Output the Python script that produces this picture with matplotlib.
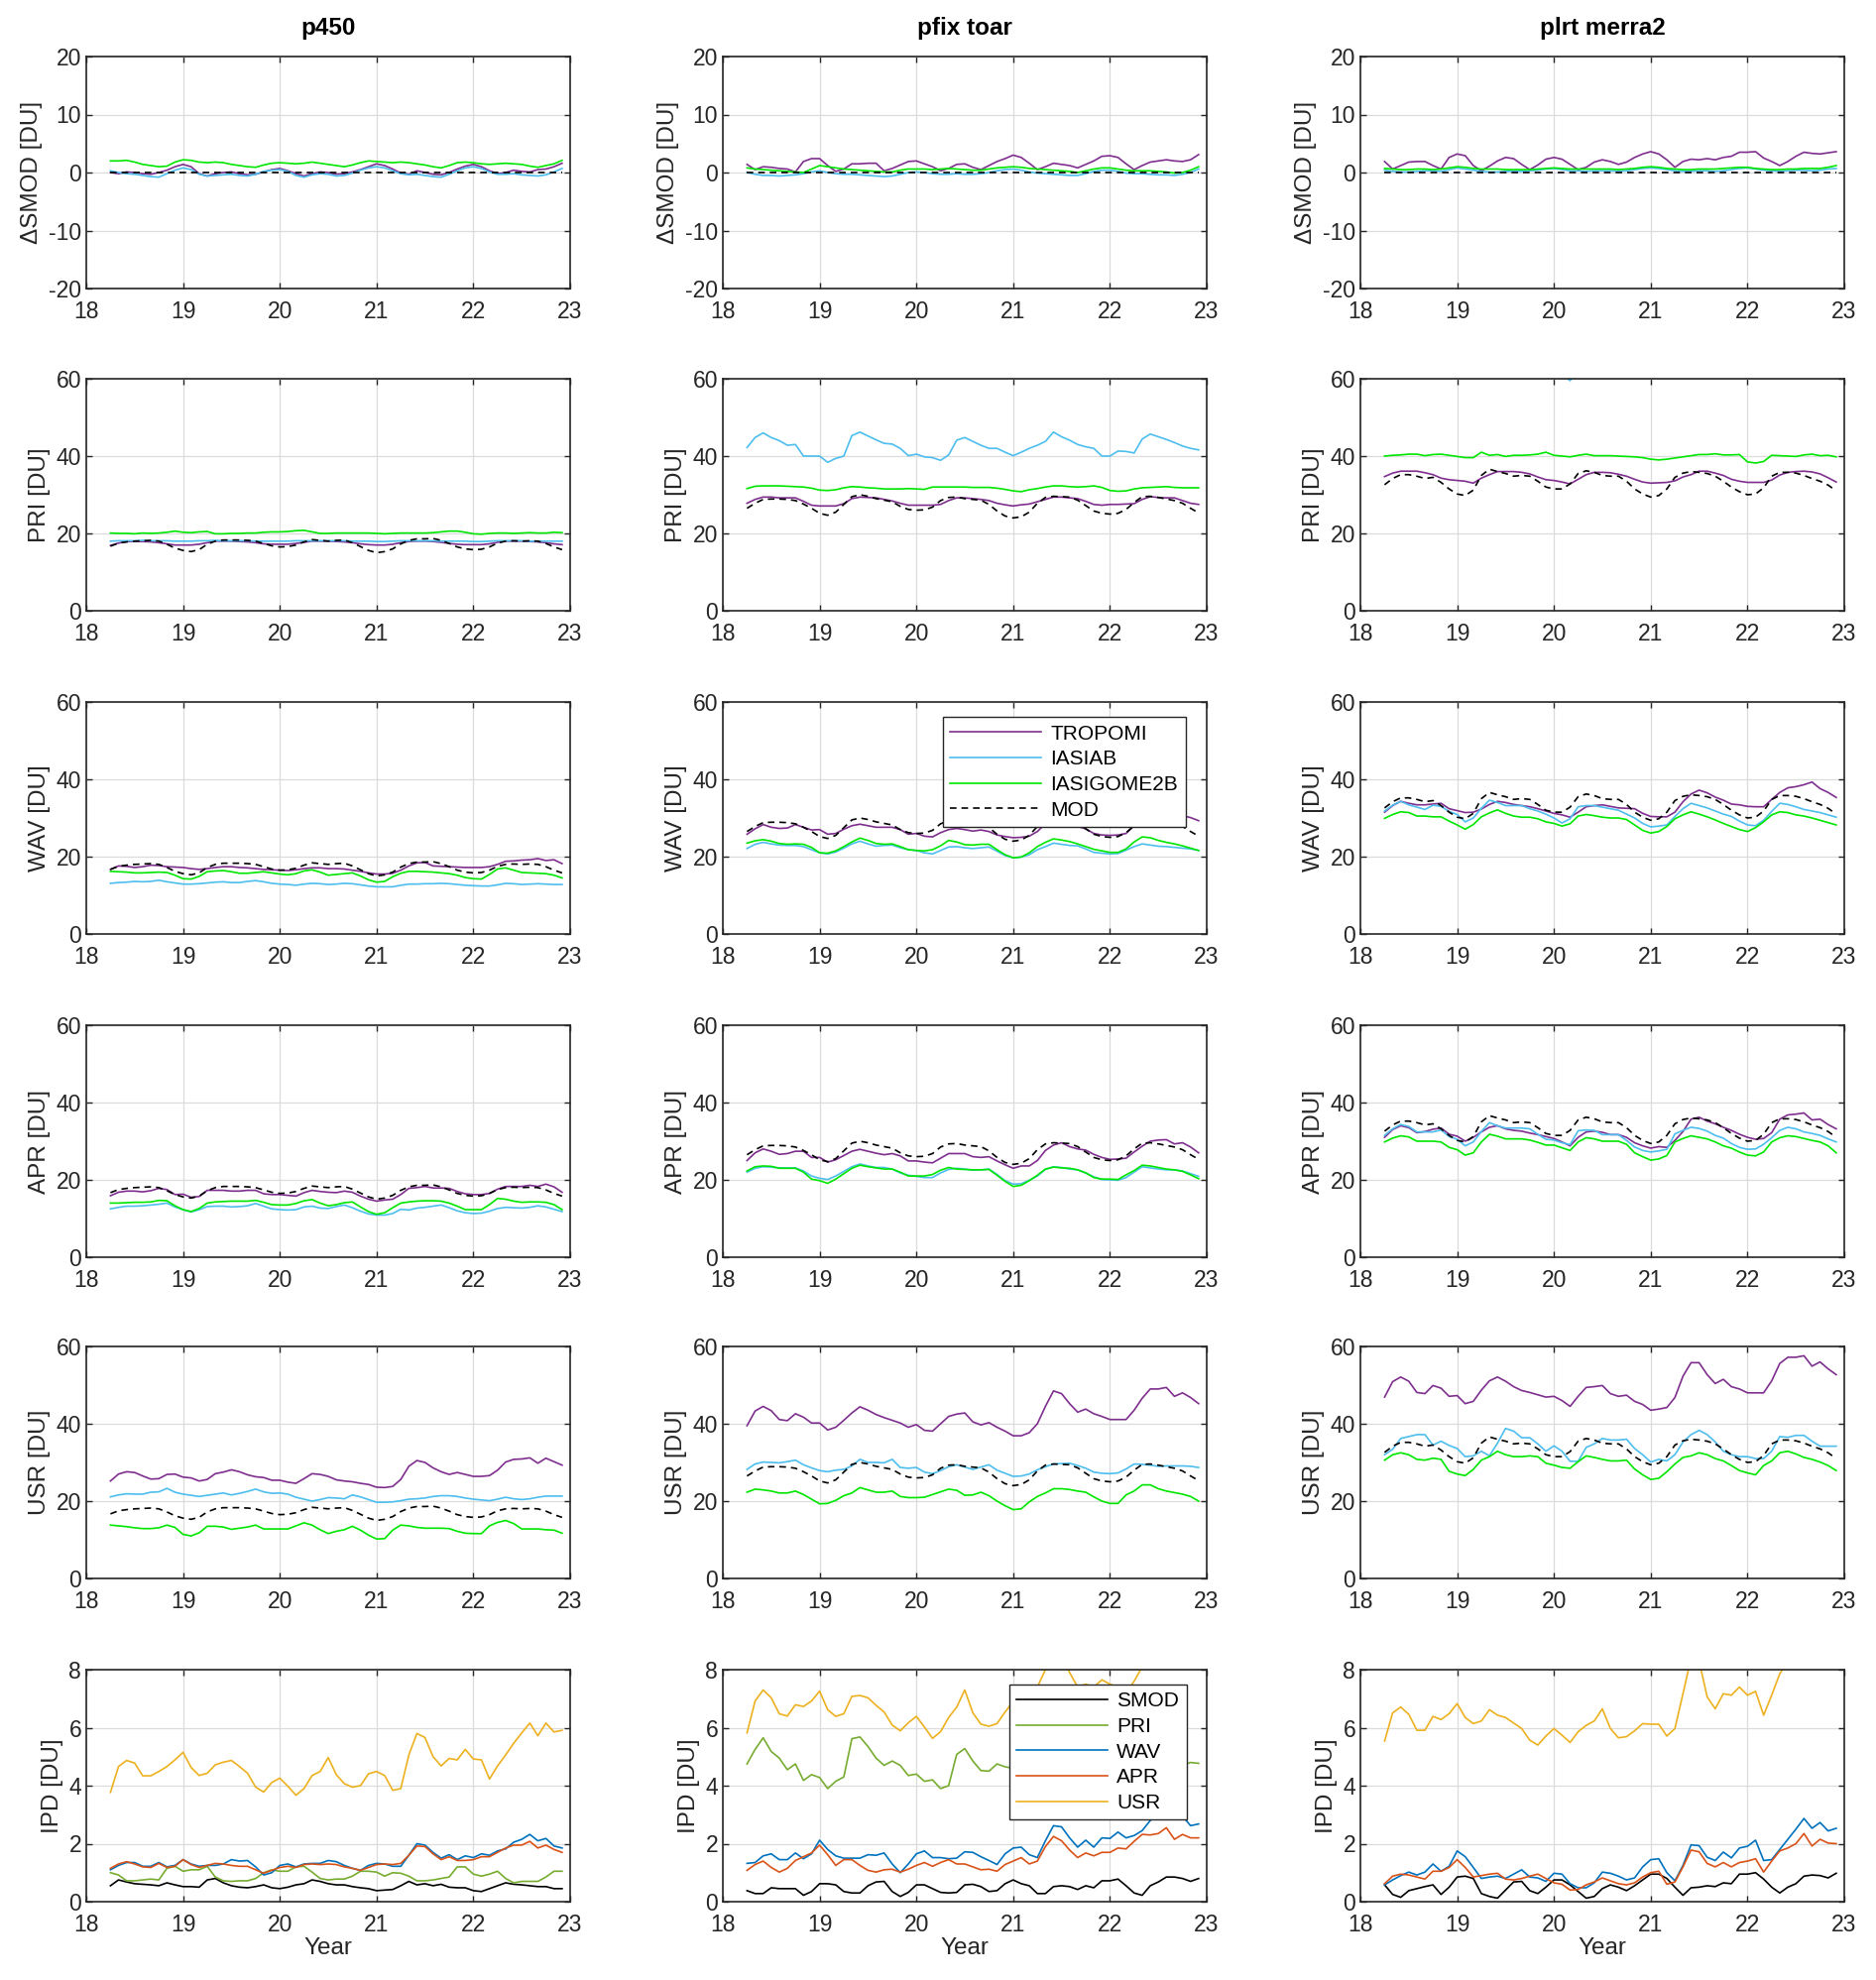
import numpy as np
import matplotlib.pyplot as plt

plt.rcParams['font.family'] = ['Liberation Sans', 'DejaVu Sans']
plt.rcParams['axes.unicode_minus'] = False

# monthly time axis, Apr 2018 .. Dec 2022 (years minus 2000)
years = 18.25 + np.arange(57) / 12

# ---- model (MOD) reference columns, one per model run ----
mod_p450 = [16.7, 17.5, 17.8, 18.0, 18.1, 18.2, 18.0, 17.2, 16.2,
            15.6, 15.3, 15.8, 17.2, 18.0, 18.3, 18.3, 18.3, 18.2, 18.0, 17.4, 16.8,
            16.5, 16.6, 17.0, 17.8, 18.4, 18.2, 18.0, 18.2, 18.3, 17.6, 16.6, 15.6,
            15.0, 15.3, 16.0, 17.3, 18.2, 18.6, 18.6, 18.7, 18.2, 17.4, 16.5, 16.0,
            15.8, 15.9, 16.5, 17.5, 18.0, 18.1, 18.0, 18.1, 18.0, 17.4, 16.5, 15.8]
mod_pfix = [26.5, 27.8, 28.8, 28.9, 28.9, 28.8, 28.5, 27.6, 26.5,
            25.2, 24.7, 25.5, 27.5, 29.5, 30.0, 29.6, 29.0, 28.6, 28.2, 27.0, 26.2,
            26.0, 26.1, 26.8, 28.5, 29.3, 29.4, 29.0, 28.8, 28.6, 27.5, 25.8, 24.5,
            24.0, 24.3, 25.5, 27.8, 29.3, 29.6, 29.5, 29.4, 28.6, 27.2, 25.8, 25.2,
            25.0, 25.2, 26.2, 28.0, 29.5, 29.6, 29.3, 28.9, 28.5, 27.8, 26.5, 25.3]
mod_plrt = [32.6, 34.2, 35.2, 35.2, 34.8, 34.2, 34.5, 33.2, 31.5,
            30.2, 29.8, 31.2, 35.0, 36.6, 36.0, 35.5, 34.8, 35.0, 34.8, 33.5, 32.0,
            31.5, 31.5, 32.8, 35.5, 36.2, 35.8, 35.0, 34.8, 34.8, 33.5, 31.5, 30.2,
            29.4, 29.8, 31.5, 34.5, 35.6, 36.0, 35.8, 35.5, 34.8, 33.5, 32.0, 30.8,
            30.0, 30.2, 31.8, 34.8, 35.8, 35.8, 35.6, 35.0, 34.2, 33.5, 32.5, 31.0]
dsmod_mod = np.zeros(57)

# ---- delta SMOD ----
dsmod_p450_trop = [0.0, -0.2, 0.1, 0.0, -0.2, -0.3, 0.0, 0.4, 1.0,
                   1.4, 1.0, -0.2, -0.6, -0.2, 0.0, 0.1, -0.2, -0.4, -0.3, 0.1, 0.5,
                   0.7, 0.3, -0.2, -0.6, -0.2, 0.1, 0.0, -0.3, -0.2, 0.1, 0.5, 1.0,
                   1.5, 1.2, 0.6, -0.1, -0.3, 0.3, 0.0, -0.3, -0.4, 0.0, 0.6, 1.1,
                   1.4, 1.0, 0.3, -0.2, 0.0, 0.4, 0.2, 0.1, 0.5, 0.6, 1.0, 1.6]
dsmod_p450_iab = [0.3, 0.0, -0.2, -0.3, -0.5, -0.7, -0.8, -0.2, 0.4,
                  0.8, 0.5, -0.3, -0.6, -0.5, -0.4, -0.3, -0.5, -0.6, -0.3, 0.2, 0.4,
                  0.5, 0.2, -0.5, -0.8, -0.4, -0.2, -0.3, -0.6, -0.5, -0.1, 0.4, 0.8,
                  1.0, 0.8, 0.3, -0.2, -0.4, -0.3, -0.5, -0.7, -0.8, -0.3, 0.3, 0.8,
                  1.0, 0.7, 0.1, -0.3, -0.3, -0.2, -0.4, -0.5, -0.6, -0.4, 0.1, 0.7]
dsmod_p450_ig2b = [2.0, 2.0, 2.1, 1.8, 1.4, 1.2, 1.0, 1.1, 1.8,
                   2.2, 2.1, 1.8, 1.7, 1.8, 1.7, 1.4, 1.2, 1.0, 0.9, 1.3, 1.6,
                   1.7, 1.6, 1.5, 1.6, 1.8, 1.6, 1.4, 1.2, 1.0, 1.3, 1.7, 2.0,
                   1.9, 1.8, 1.7, 1.8, 1.7, 1.5, 1.3, 1.0, 0.8, 1.2, 1.7, 1.8,
                   1.7, 1.5, 1.4, 1.5, 1.6, 1.5, 1.4, 1.1, 0.9, 1.2, 1.5, 2.1]
dsmod_pfix_trop = [1.4, 0.5, 1.0, 0.9, 0.7, 0.6, 0.1, 1.9, 2.4,
                   2.4, 1.2, 0.2, 0.6, 1.5, 1.5, 1.6, 1.6, 0.3, 0.7, 1.3, 1.9,
                   2.0, 1.5, 1.0, 0.3, 0.7, 1.4, 1.5, 0.9, 0.5, 1.2, 1.9, 2.4,
                   3.0, 2.6, 1.6, 0.5, 1.0, 1.6, 1.4, 1.2, 0.8, 1.4, 2.0, 2.8,
                   2.9, 2.6, 1.5, 0.5, 1.2, 1.8, 2.0, 2.2, 2.0, 1.9, 2.2, 3.1]
dsmod_pfix_iab = [0.0, -0.3, -0.5, -0.5, -0.6, -0.5, -0.4, -0.2, 0.1,
                  0.3, 0.0, -0.2, -0.3, -0.3, -0.4, -0.5, -0.6, -0.7, -0.6, -0.3, 0.0,
                  0.1, 0.0, -0.2, -0.3, -0.3, -0.2, -0.3, -0.3, -0.2, 0.0, 0.3, 0.5,
                  0.6, 0.4, 0.1, -0.1, -0.2, -0.3, -0.4, -0.5, -0.5, -0.2, 0.2, 0.4,
                  0.4, 0.2, -0.1, -0.2, -0.2, -0.3, -0.4, -0.4, -0.5, -0.3, 0.0, 0.6]
dsmod_pfix_ig2b = [0.8, 0.6, 0.5, 0.4, 0.3, 0.2, 0.1, 0.0, 0.6,
                   1.2, 1.0, 0.8, 0.6, 0.5, 0.4, 0.3, 0.2, 0.1, 0.1, 0.4, 0.6,
                   0.6, 0.6, 0.5, 0.6, 0.7, 0.6, 0.5, 0.4, 0.4, 0.6, 0.8, 0.9,
                   1.0, 0.9, 0.7, 0.6, 0.5, 0.4, 0.3, 0.2, 0.0, 0.3, 0.6, 0.8,
                   0.8, 0.6, 0.4, 0.3, 0.3, 0.3, 0.2, 0.1, -0.1, 0.0, 0.4, 1.0]
dsmod_plrt_trop = [1.9, 0.6, 1.2, 1.8, 1.9, 1.9, 1.2, 0.6, 2.6,
                   3.2, 2.9, 1.2, 0.3, 1.1, 2.0, 2.6, 2.4, 1.4, 0.5, 1.3, 2.3,
                   2.6, 2.3, 1.4, 0.5, 0.9, 1.8, 2.2, 1.9, 1.4, 1.8, 2.6, 3.2,
                   3.6, 3.2, 2.2, 0.9, 1.9, 2.3, 2.2, 2.4, 2.2, 2.6, 2.8, 3.5,
                   3.5, 3.6, 2.5, 1.9, 1.2, 1.9, 2.8, 3.5, 3.3, 3.2, 3.4, 3.6]
dsmod_plrt_iab = [0.4, 0.2, 0.1, 0.1, 0.2, 0.3, 0.3, 0.2, 0.5,
                  0.8, 0.6, 0.4, 0.2, 0.1, 0.1, 0.2, 0.2, 0.2, 0.3, 0.4, 0.6,
                  0.7, 0.5, 0.3, 0.3, 0.2, 0.3, 0.3, 0.3, 0.2, 0.3, 0.5, 0.7,
                  0.8, 0.7, 0.5, 0.3, 0.2, 0.2, 0.3, 0.3, 0.2, 0.3, 0.5, 0.7,
                  0.8, 0.6, 0.4, 0.3, 0.2, 0.3, 0.4, 0.4, 0.3, 0.4, 0.6, 0.7]
dsmod_plrt_ig2b = [0.7, 0.6, 0.5, 0.5, 0.6, 0.6, 0.5, 0.6, 0.8,
                   1.0, 0.9, 0.7, 0.6, 0.6, 0.6, 0.5, 0.5, 0.5, 0.5, 0.6, 0.7,
                   0.8, 0.7, 0.6, 0.6, 0.6, 0.6, 0.6, 0.6, 0.5, 0.6, 0.7, 0.9,
                   1.0, 0.9, 0.7, 0.6, 0.5, 0.5, 0.6, 0.6, 0.6, 0.7, 0.8, 0.9,
                   0.9, 0.7, 0.6, 0.5, 0.5, 0.6, 0.6, 0.7, 0.7, 0.7, 0.9, 1.2]

# ---- PRI ----
pri_p450_trop = [16.9, 17.5, 17.9, 17.9, 17.9, 17.8, 17.6, 17.3, 17.0,
                 17.0, 17.0, 17.2, 17.6, 18.0, 18.0, 18.0, 17.9, 17.8, 17.6, 17.3, 17.2,
                 17.2, 17.2, 17.4, 17.7, 18.0, 18.0, 18.0, 17.9, 17.8, 17.6, 17.3, 17.1,
                 17.0, 17.0, 17.2, 17.6, 17.9, 18.0, 18.0, 17.9, 17.7, 17.4, 17.2, 17.1,
                 17.1, 17.1, 17.3, 17.7, 18.0, 18.0, 18.0, 17.9, 17.8, 17.6, 17.3, 17.1]
pri_p450_iab = [18.0, 18.1, 18.1, 18.1, 18.2, 18.1, 18.1, 18.1, 18.0,
                18.0, 18.0, 18.1, 18.1, 18.2, 18.1, 18.1, 18.1, 18.1, 18.0, 18.0, 18.0,
                18.0, 18.0, 18.1, 18.1, 18.1, 18.1, 18.1, 18.1, 18.1, 18.0, 18.0, 18.0,
                17.9, 17.9, 18.0, 18.1, 18.1, 18.1, 18.1, 18.1, 18.0, 18.0, 18.0, 18.0,
                17.9, 17.9, 18.0, 18.1, 18.1, 18.1, 18.1, 18.0, 18.0, 18.0, 18.0, 18.0]
pri_p450_ig2b = [20.1, 20.0, 20.0, 19.9, 20.1, 20.0, 20.1, 20.3, 20.6,
                 20.3, 20.2, 20.4, 20.5, 19.9, 19.9, 20.0, 20.0, 20.1, 20.1, 20.3, 20.4,
                 20.4, 20.5, 20.7, 20.8, 20.4, 20.0, 20.0, 20.1, 20.1, 20.1, 20.1, 20.1,
                 20.0, 19.9, 20.0, 20.1, 20.1, 20.1, 20.1, 20.2, 20.4, 20.6, 20.6, 20.3,
                 19.9, 19.8, 20.0, 20.1, 20.1, 20.0, 20.1, 20.2, 20.1, 20.1, 20.3, 20.2]
pri_pfix_trop = [27.8, 28.8, 29.4, 29.4, 29.2, 29.2, 29.2, 28.3, 27.3,
                 27.1, 27.1, 27.1, 27.7, 29.0, 29.4, 29.3, 29.2, 28.8, 28.4, 27.8, 27.3,
                 27.3, 27.3, 27.3, 27.5, 28.5, 29.2, 29.2, 29.0, 28.8, 28.5, 27.8, 27.4,
                 27.1, 27.4, 27.6, 28.2, 28.8, 29.4, 29.4, 29.2, 29.0, 28.3, 27.5, 27.3,
                 27.5, 27.5, 27.6, 27.7, 28.8, 29.5, 29.3, 29.2, 29.2, 28.5, 27.8, 27.5]
pri_pfix_iab = [42.2, 44.8, 46.0, 44.8, 44.0, 42.8, 43.0, 40.0, 40.0,
                40.0, 38.4, 39.4, 40.0, 45.3, 46.2, 45.2, 44.2, 43.3, 43.1, 42.0, 40.1,
                40.5, 39.8, 39.6, 38.9, 40.3, 44.1, 44.8, 43.8, 42.8, 42.0, 42.0, 41.0,
                40.1, 41.0, 42.0, 42.8, 43.8, 46.2, 45.0, 44.1, 43.0, 42.4, 42.0, 40.0,
                40.0, 41.3, 41.2, 40.8, 44.4, 45.7, 45.0, 44.3, 43.5, 42.6, 42.0, 41.6]
pri_pfix_ig2b = [31.6, 32.2, 32.3, 32.3, 32.3, 32.2, 32.1, 32.0, 31.7,
                 31.2, 31.1, 31.3, 31.8, 32.1, 32.0, 31.8, 31.7, 31.5, 31.5, 31.5, 31.6,
                 31.5, 31.4, 32.0, 32.0, 32.0, 32.0, 32.0, 31.9, 31.9, 31.9, 31.7, 31.4,
                 31.0, 30.8, 31.3, 31.6, 32.0, 32.3, 32.3, 32.1, 32.0, 32.1, 32.3, 31.9,
                 31.1, 30.9, 31.0, 31.5, 31.8, 31.9, 32.0, 32.1, 31.9, 31.8, 31.8, 31.8]
pri_plrt_trop = [34.7, 35.6, 36.1, 36.1, 36.1, 35.7, 35.2, 34.3, 33.9,
                 33.7, 33.5, 33.0, 34.3, 35.2, 36.0, 36.0, 36.0, 35.8, 35.4, 34.6, 33.9,
                 33.7, 33.3, 32.8, 34.0, 35.2, 35.8, 35.8, 35.7, 35.3, 34.8, 34.0, 33.3,
                 33.0, 33.1, 33.2, 33.6, 34.6, 35.2, 36.1, 36.1, 35.6, 35.0, 34.0, 33.5,
                 33.2, 33.2, 33.2, 33.8, 35.1, 35.8, 36.0, 36.1, 35.9, 35.4, 34.4, 33.3]
pri_plrt_iab = [66.0, 67.0, 68.0, 67.0, 66.0, 65.0, 65.0, 64.0, 64.0,
                63.5, 63.0, 64.0, 66.0, 67.0, 67.0, 66.0, 65.0, 64.0, 63.0, 62.5, 62.0,
                61.5, 61.0, 59.5, 62.0, 65.0, 66.0, 66.0, 65.0, 64.0, 63.5, 63.0, 62.5,
                62.0, 62.5, 63.0, 65.0, 67.0, 67.0, 66.0, 65.0, 64.0, 63.5, 63.0, 62.5,
                62.0, 62.5, 63.0, 65.0, 66.0, 66.0, 66.0, 65.0, 64.0, 63.5, 63.0, 62.5]
pri_plrt_ig2b = [40.0, 40.2, 40.3, 40.5, 40.5, 40.1, 40.4, 40.5, 40.2,
                 39.9, 39.6, 39.6, 41.0, 40.2, 40.4, 39.9, 40.2, 40.2, 40.3, 40.5, 41.0,
                 40.2, 40.0, 39.8, 40.2, 40.5, 40.1, 40.1, 40.1, 40.0, 39.9, 39.8, 39.6,
                 39.2, 39.0, 39.2, 39.5, 39.8, 40.1, 40.4, 40.4, 40.6, 40.3, 40.3, 40.4,
                 38.5, 38.2, 38.6, 40.2, 40.1, 40.0, 39.9, 40.3, 40.5, 40.1, 40.2, 39.8]

# ---- WAV ----
wav_p450_trop = [16.7, 17.6, 17.5, 17.2, 17.4, 17.8, 17.7, 17.4, 17.3,
                 17.2, 16.9, 16.7, 16.9, 17.2, 17.4, 17.4, 17.2, 17.1, 16.9, 16.7, 16.6,
                 16.5, 16.4, 16.6, 16.9, 17.1, 17.1, 16.9, 16.9, 16.8, 16.5, 16.2, 15.8,
                 15.5, 15.5, 15.7, 16.5, 17.6, 18.4, 18.5, 17.6, 17.5, 17.4, 17.3, 17.2,
                 17.2, 17.2, 17.4, 18.0, 18.8, 18.9, 19.1, 19.2, 19.5, 19.0, 19.2, 18.2]
wav_p450_iab = [13.1, 13.3, 13.4, 13.6, 13.5, 13.6, 13.9, 13.5, 13.2,
                12.9, 12.9, 13.0, 13.2, 13.4, 13.5, 13.3, 13.3, 13.6, 13.8, 13.5, 13.1,
                12.9, 12.8, 12.6, 12.9, 13.1, 13.0, 12.8, 12.9, 13.1, 13.0, 12.7, 12.4,
                12.2, 12.2, 12.2, 12.6, 12.9, 12.9, 13.0, 13.0, 13.1, 13.0, 12.8, 12.6,
                12.5, 12.4, 12.4, 12.7, 13.1, 13.0, 12.8, 12.9, 13.0, 12.9, 12.8, 12.8]
wav_p450_ig2b = [16.2, 16.1, 16.0, 15.8, 15.8, 15.9, 16.0, 15.9, 15.2,
                 14.3, 14.2, 14.9, 16.1, 16.3, 16.4, 16.1, 15.7, 15.7, 15.9, 16.1, 15.8,
                 15.5, 15.3, 15.6, 16.3, 16.6, 16.0, 15.2, 15.4, 15.6, 15.8, 15.0, 14.0,
                 13.4, 13.6, 14.8, 15.7, 16.2, 16.2, 16.1, 16.0, 15.8, 15.6, 15.2, 14.6,
                 14.3, 14.2, 15.4, 16.8, 17.1, 16.5, 15.9, 15.8, 15.7, 15.6, 15.2, 14.5]
wav_pfix_trop = [25.8, 27.2, 28.3, 27.6, 27.3, 27.4, 28.3, 27.6, 26.9,
                 27.0, 25.8, 26.0, 27.1, 28.0, 28.4, 28.0, 27.6, 27.6, 27.6, 27.0, 25.8,
                 26.0, 25.3, 25.1, 26.2, 27.0, 27.3, 27.0, 26.6, 26.9, 26.5, 25.6, 25.2,
                 24.9, 25.0, 25.3, 26.5, 28.5, 29.3, 28.6, 28.2, 27.8, 27.2, 26.0, 25.6,
                 25.5, 25.6, 26.0, 28.0, 29.8, 30.4, 30.0, 30.7, 30.3, 30.6, 30.1, 29.3]
wav_pfix_iab = [22.1, 23.2, 23.7, 23.3, 23.0, 22.9, 22.9, 22.6, 21.8,
                21.0, 20.7, 21.2, 22.2, 23.3, 24.0, 23.3, 22.7, 22.9, 23.0, 22.3, 21.8,
                21.6, 21.0, 20.7, 21.6, 22.5, 22.6, 22.3, 22.1, 22.3, 22.5, 21.4, 20.3,
                19.7, 19.9, 20.5, 21.8, 22.6, 23.5, 23.2, 22.9, 22.8, 22.0, 21.1, 20.9,
                20.7, 20.8, 21.7, 22.6, 23.3, 23.0, 22.7, 22.6, 22.4, 22.2, 22.0, 21.6]
wav_pfix_ig2b = [23.5, 24.1, 24.4, 24.0, 23.4, 23.2, 23.3, 23.2, 22.4,
                 21.0, 20.9, 21.5, 22.6, 23.8, 24.8, 24.2, 23.4, 23.2, 23.3, 22.6, 21.8,
                 21.6, 21.5, 21.8, 22.8, 24.2, 23.8, 23.1, 23.0, 23.2, 23.2, 21.8, 20.5,
                 19.7, 19.9, 21.0, 22.6, 23.7, 24.6, 24.3, 23.9, 23.3, 22.6, 21.9, 21.5,
                 21.1, 21.1, 22.0, 23.8, 25.1, 24.9, 24.2, 23.7, 23.3, 22.8, 22.2, 21.6]
wav_plrt_trop = [31.5, 33.2, 34.3, 33.8, 33.4, 33.4, 33.6, 33.8, 32.4,
                 31.9, 31.4, 31.5, 32.3, 33.5, 34.3, 34.0, 33.5, 33.2, 32.9, 32.4, 31.8,
                 31.2, 30.8, 30.2, 31.5, 32.9, 33.2, 33.4, 33.0, 32.6, 32.5, 32.4, 31.2,
                 30.4, 30.3, 30.3, 31.5, 34.2, 36.2, 37.2, 36.5, 35.4, 34.6, 33.6, 33.4,
                 33.0, 32.9, 32.9, 34.8, 36.6, 37.8, 38.1, 38.6, 39.3, 37.6, 36.6, 35.3]
wav_plrt_iab = [31.8, 33.3, 34.3, 33.4, 32.8, 32.2, 33.3, 33.0, 31.7,
                30.9, 29.0, 30.0, 32.5, 34.6, 34.0, 33.2, 33.2, 33.2, 32.4, 31.8, 31.0,
                30.0, 28.7, 29.8, 32.9, 33.2, 33.2, 32.8, 32.4, 32.0, 31.0, 30.0, 28.6,
                27.7, 27.9, 28.2, 30.4, 32.4, 33.8, 33.2, 32.6, 31.8, 31.0, 30.4, 29.2,
                28.2, 28.0, 29.4, 31.7, 33.8, 33.5, 32.9, 32.2, 31.8, 31.4, 30.8, 30.2]
wav_plrt_ig2b = [29.9, 30.9, 31.6, 31.4, 30.5, 30.5, 30.3, 30.3, 29.2,
                 28.2, 27.1, 28.3, 30.3, 31.3, 32.1, 31.2, 30.5, 30.2, 30.2, 29.8, 29.0,
                 28.6, 27.9, 28.5, 30.5, 30.9, 30.6, 30.2, 30.0, 30.0, 29.6, 28.2, 26.8,
                 26.1, 26.5, 27.8, 29.8, 30.8, 31.6, 31.0, 30.3, 29.5, 28.6, 27.8, 27.0,
                 26.5, 27.5, 29.0, 30.8, 31.6, 31.4, 30.8, 30.5, 30.0, 29.4, 28.8, 28.2]

# ---- APR ----
apr_p450_trop = [15.9, 16.8, 17.1, 17.1, 16.9, 17.2, 17.8, 17.5, 16.2,
                 16.3, 15.5, 15.7, 17.3, 17.3, 17.3, 17.1, 17.1, 17.3, 17.3, 16.4, 16.2,
                 16.2, 16.0, 15.8, 16.7, 17.3, 17.0, 16.8, 16.7, 17.1, 16.8, 15.8, 15.0,
                 14.5, 14.8, 15.0, 16.2, 17.8, 18.0, 18.3, 17.9, 17.9, 17.8, 17.0, 16.4,
                 16.2, 16.2, 16.5, 17.6, 18.3, 18.3, 18.3, 18.6, 18.3, 18.9, 18.2, 16.8]
apr_p450_iab = [12.5, 12.9, 13.2, 13.2, 13.3, 13.5, 13.7, 14.0, 13.0,
                12.3, 11.7, 12.3, 13.1, 13.2, 13.2, 13.0, 13.1, 13.3, 13.9, 13.2, 12.5,
                12.3, 12.2, 12.3, 13.0, 13.2, 12.7, 12.6, 13.1, 13.5, 12.8, 11.9, 11.2,
                10.9, 10.9, 11.3, 12.4, 12.2, 12.7, 12.9, 13.2, 13.5, 12.8, 12.0, 11.5,
                11.3, 11.4, 11.9, 12.6, 12.9, 12.8, 12.7, 12.9, 13.3, 13.0, 12.4, 11.8]
apr_p450_ig2b = [14.0, 14.0, 14.1, 14.2, 14.2, 14.3, 14.7, 14.6, 13.3,
                 12.3, 11.8, 12.6, 14.0, 14.3, 14.4, 14.5, 14.5, 14.5, 14.7, 14.2, 13.6,
                 13.5, 13.5, 13.9, 14.6, 14.9, 14.0, 13.3, 13.6, 14.1, 14.3, 13.0, 11.8,
                 11.1, 11.5, 12.8, 14.0, 14.3, 14.5, 14.6, 14.6, 14.5, 14.0, 13.2, 12.3,
                 12.3, 12.3, 13.6, 15.2, 15.0, 14.5, 14.2, 14.3, 14.3, 14.2, 13.6, 12.3]
apr_pfix_trop = [25.0, 27.0, 28.0, 27.4, 26.6, 26.8, 27.4, 27.4, 25.8,
                 25.8, 24.6, 25.2, 26.3, 27.4, 27.9, 27.4, 26.9, 26.5, 26.8, 26.2, 24.9,
                 24.9, 24.6, 24.4, 25.6, 26.8, 26.8, 26.8, 26.0, 25.8, 26.0, 24.9, 23.9,
                 23.0, 23.6, 23.6, 25.0, 27.6, 29.0, 29.6, 28.6, 28.0, 27.7, 26.6, 25.8,
                 25.3, 25.4, 25.6, 27.2, 28.7, 30.0, 30.3, 30.4, 29.3, 29.6, 28.5, 27.0]
apr_pfix_iab = [22.0, 23.0, 23.4, 23.3, 23.1, 23.1, 23.1, 22.3, 21.0,
                20.4, 20.1, 21.0, 22.2, 23.4, 24.1, 23.6, 23.2, 23.2, 22.8, 21.8, 21.2,
                20.9, 20.6, 20.6, 21.8, 22.7, 23.0, 22.8, 22.5, 22.6, 22.8, 21.4, 19.8,
                18.9, 19.0, 19.9, 21.0, 22.7, 23.4, 23.2, 22.8, 22.6, 21.8, 20.8, 20.1,
                20.0, 19.9, 20.6, 22.0, 23.4, 23.1, 22.8, 22.6, 22.6, 22.3, 21.6, 20.9]
apr_pfix_ig2b = [22.3, 23.4, 23.6, 23.5, 23.0, 23.0, 23.0, 22.0, 20.2,
                 19.8, 19.1, 20.2, 21.6, 23.0, 23.8, 23.4, 23.1, 22.8, 22.8, 22.0, 21.0,
                 21.0, 21.0, 21.4, 22.5, 23.2, 22.8, 22.7, 22.6, 22.6, 22.7, 21.2, 19.6,
                 18.3, 18.6, 19.8, 21.2, 22.8, 23.3, 23.1, 23.0, 22.6, 21.8, 20.6, 20.2,
                 20.2, 20.1, 21.3, 22.4, 23.8, 23.6, 23.2, 22.8, 22.6, 22.2, 21.3, 20.3]
apr_plrt_trop = [31.0, 33.0, 34.0, 33.5, 32.2, 32.5, 33.1, 33.4, 31.8,
                 31.3, 30.0, 31.0, 32.4, 33.6, 34.0, 33.2, 32.8, 32.6, 32.1, 31.7, 31.2,
                 30.7, 29.8, 28.8, 31.0, 32.4, 32.6, 32.3, 31.7, 31.7, 31.0, 29.6, 28.8,
                 28.2, 28.6, 28.4, 30.2, 32.5, 35.7, 36.2, 35.2, 34.5, 33.6, 32.8, 31.8,
                 31.0, 30.5, 30.7, 32.2, 35.7, 36.8, 37.0, 37.3, 35.5, 35.7, 34.3, 33.2]
apr_plrt_iab = [31.5, 33.2, 34.3, 33.8, 32.4, 32.4, 32.4, 32.9, 31.2,
                30.5, 28.8, 29.8, 32.5, 34.8, 34.0, 33.4, 33.4, 33.4, 33.2, 31.8, 30.5,
                30.3, 29.6, 29.1, 32.7, 32.9, 32.8, 31.7, 31.7, 31.7, 30.2, 28.5, 27.6,
                27.2, 27.5, 27.9, 31.9, 32.8, 33.6, 33.3, 32.6, 31.5, 30.8, 29.4, 28.4,
                27.9, 28.0, 29.2, 30.9, 32.8, 33.6, 33.2, 32.4, 32.0, 31.5, 30.6, 29.8]
apr_plrt_ig2b = [29.8, 30.8, 31.4, 31.1, 30.0, 30.0, 30.0, 29.8, 28.4,
                 27.8, 26.4, 27.0, 29.8, 31.8, 31.3, 30.6, 30.6, 30.6, 30.3, 29.7, 29.0,
                 29.0, 28.3, 27.6, 29.8, 30.9, 30.6, 30.0, 30.0, 30.0, 29.2, 27.0, 26.0,
                 25.1, 25.4, 26.3, 29.8, 30.7, 31.4, 31.0, 30.6, 29.8, 28.8, 28.2, 27.2,
                 26.4, 26.2, 27.2, 29.8, 30.9, 31.4, 31.2, 30.7, 30.2, 29.8, 28.8, 27.0]

# ---- USR ----
usr_p450_trop = [25.2, 27.0, 27.6, 27.4, 26.5, 25.7, 25.8, 26.9, 27.0,
                 26.2, 26.0, 25.2, 25.6, 27.1, 27.5, 28.1, 27.6, 26.8, 26.3, 26.1, 25.4,
                 25.4, 24.9, 24.6, 25.8, 27.1, 26.9, 26.4, 25.5, 25.2, 25.0, 24.6, 24.3,
                 23.6, 23.5, 23.8, 25.6, 29.0, 30.5, 30.0, 28.6, 27.6, 26.9, 27.4, 26.9,
                 26.4, 26.4, 26.6, 28.0, 30.1, 30.8, 30.9, 31.2, 29.8, 31.1, 30.2, 29.3]
usr_p450_iab = [21.1, 21.6, 21.9, 21.8, 21.8, 22.3, 22.4, 23.3, 22.3,
                21.8, 21.5, 21.2, 21.5, 21.8, 22.1, 21.6, 22.0, 22.5, 23.1, 22.4, 22.0,
                22.1, 21.8, 21.0, 20.5, 20.0, 20.4, 20.9, 20.8, 20.6, 21.6, 21.1, 20.4,
                19.7, 19.7, 19.8, 20.1, 20.5, 20.6, 20.8, 21.2, 21.4, 21.4, 21.2, 20.8,
                20.5, 20.3, 20.1, 20.5, 21.0, 20.6, 20.4, 20.6, 21.0, 21.3, 21.3, 21.3]
usr_p450_ig2b = [13.8, 13.6, 13.4, 13.1, 12.9, 12.9, 13.1, 13.8, 13.2,
                 11.4, 11.0, 11.8, 13.5, 13.5, 13.3, 12.7, 13.0, 13.3, 13.8, 12.8, 12.8,
                 12.8, 12.8, 13.6, 14.4, 13.8, 12.6, 11.6, 12.2, 12.6, 13.5, 12.5, 11.2,
                 10.2, 10.3, 12.5, 13.8, 13.6, 13.2, 13.0, 13.0, 13.0, 12.9, 12.2, 11.7,
                 11.6, 11.6, 13.6, 14.5, 15.0, 14.2, 12.8, 12.8, 12.8, 12.6, 12.5, 11.7]
usr_pfix_trop = [39.5, 43.3, 44.5, 43.4, 41.1, 40.8, 42.6, 41.7, 40.2,
                 40.2, 38.4, 39.1, 40.9, 42.8, 44.4, 43.5, 42.4, 41.6, 40.9, 40.2, 39.1,
                 39.8, 38.3, 38.1, 40.0, 41.9, 42.5, 42.8, 40.5, 39.7, 40.3, 39.1, 38.1,
                 36.9, 36.9, 37.7, 40.0, 44.5, 48.5, 47.8, 45.2, 43.0, 43.8, 42.6, 41.9,
                 41.1, 41.1, 41.1, 43.5, 46.6, 49.0, 49.0, 49.4, 47.1, 48.0, 46.8, 45.2]
usr_pfix_iab = [28.2, 29.6, 30.1, 30.0, 29.9, 30.2, 30.6, 29.4, 28.6,
                27.9, 27.6, 28.0, 28.2, 29.1, 30.8, 30.0, 30.0, 29.9, 30.8, 28.7, 28.5,
                28.7, 27.5, 27.1, 27.9, 28.9, 29.4, 28.8, 28.2, 28.8, 29.4, 28.0, 27.2,
                26.4, 26.5, 27.0, 28.1, 28.9, 29.6, 29.7, 29.8, 29.2, 28.5, 27.5, 27.2,
                27.1, 27.3, 28.3, 29.6, 29.5, 29.3, 29.0, 29.1, 29.1, 29.1, 29.0, 28.7]
usr_pfix_ig2b = [22.3, 23.1, 22.9, 22.6, 22.1, 22.1, 22.6, 21.7, 20.5,
                 19.3, 19.4, 20.2, 21.4, 22.1, 23.5, 22.9, 22.3, 22.3, 22.6, 21.2, 20.9,
                 20.9, 21.0, 21.7, 22.4, 23.1, 22.8, 21.5, 21.6, 22.3, 21.4, 20.0, 18.8,
                 17.8, 18.0, 19.8, 21.2, 22.1, 23.2, 23.2, 23.0, 22.6, 22.3, 21.1, 20.0,
                 19.4, 19.4, 21.6, 22.6, 24.2, 24.2, 23.2, 22.6, 22.2, 21.8, 21.2, 20.0]
usr_plrt_trop = [46.9, 50.9, 52.1, 51.0, 48.1, 47.8, 49.9, 49.2, 47.1,
                 47.3, 45.2, 45.8, 48.7, 51.1, 52.1, 51.0, 49.6, 48.6, 48.1, 47.5, 46.9,
                 47.1, 46.0, 44.5, 47.1, 49.4, 49.6, 49.9, 47.8, 47.1, 47.4, 45.8, 45.0,
                 43.5, 43.8, 44.2, 46.8, 52.3, 55.8, 55.8, 52.7, 50.4, 51.5, 49.6, 49.0,
                 48.0, 48.0, 48.0, 51.1, 55.6, 57.2, 57.2, 57.6, 54.9, 56.0, 54.2, 52.7]
usr_plrt_iab = [32.0, 33.4, 36.2, 36.7, 37.2, 37.2, 34.5, 35.5, 34.4,
                33.6, 31.5, 31.7, 32.9, 31.7, 35.0, 38.8, 38.1, 36.4, 36.4, 34.8, 32.9,
                34.3, 32.9, 30.3, 30.3, 33.9, 34.8, 36.2, 35.8, 35.8, 36.0, 33.6, 32.0,
                30.1, 30.8, 30.4, 32.0, 35.3, 37.2, 38.3, 37.2, 35.3, 32.9, 32.0, 31.5,
                31.5, 31.0, 31.0, 32.9, 36.7, 36.5, 37.0, 37.0, 35.5, 34.2, 34.2, 34.2]
usr_plrt_ig2b = [30.6, 32.0, 32.5, 32.0, 30.8, 30.6, 31.1, 30.8, 27.7,
                 27.0, 26.6, 28.2, 30.6, 31.5, 32.9, 32.0, 31.5, 31.5, 31.7, 31.5, 29.8,
                 29.3, 28.7, 28.5, 30.2, 31.7, 31.3, 30.8, 30.4, 30.4, 30.6, 28.3, 26.8,
                 25.6, 25.9, 27.6, 29.6, 31.3, 31.7, 32.5, 32.0, 31.0, 30.4, 29.2, 27.9,
                 27.3, 26.8, 29.2, 30.4, 32.5, 32.9, 32.2, 31.3, 30.8, 30.1, 29.2, 27.9]

# ---- IPD ----
ipd_p450_smod = [0.55, 0.75, 0.68, 0.62, 0.60, 0.58, 0.55, 0.65, 0.58,
                 0.52, 0.52, 0.50, 0.75, 0.80, 0.65, 0.55, 0.50, 0.48, 0.52, 0.58, 0.48,
                 0.45, 0.50, 0.58, 0.62, 0.75, 0.70, 0.62, 0.58, 0.58, 0.52, 0.48, 0.45,
                 0.38, 0.40, 0.42, 0.55, 0.70, 0.58, 0.62, 0.55, 0.60, 0.50, 0.48, 0.48,
                 0.38, 0.35, 0.45, 0.55, 0.65, 0.60, 0.58, 0.55, 0.52, 0.52, 0.45, 0.45]
ipd_p450_pri = [1.00, 0.92, 0.72, 0.72, 0.75, 0.78, 0.75, 1.15, 1.22,
                1.05, 1.10, 1.10, 1.22, 0.85, 0.72, 0.70, 0.72, 0.72, 0.80, 1.00, 1.10,
                1.05, 1.05, 1.20, 1.22, 1.02, 0.80, 0.75, 0.78, 0.78, 0.88, 1.05, 1.05,
                1.02, 0.88, 1.00, 0.98, 0.88, 0.72, 0.72, 0.75, 0.80, 0.85, 1.20, 1.20,
                0.95, 0.88, 0.95, 1.05, 0.80, 0.65, 0.70, 0.70, 0.70, 0.85, 1.05, 1.05]
ipd_p450_wav = [1.10, 1.25, 1.35, 1.35, 1.22, 1.22, 1.35, 1.20, 1.25,
                1.45, 1.30, 1.22, 1.25, 1.25, 1.30, 1.45, 1.40, 1.42, 1.20, 0.92, 1.00,
                1.25, 1.30, 1.20, 1.30, 1.32, 1.32, 1.42, 1.38, 1.25, 1.15, 1.08, 1.25,
                1.32, 1.30, 1.22, 1.22, 1.60, 2.00, 1.95, 1.70, 1.50, 1.62, 1.45, 1.58,
                1.52, 1.65, 1.60, 1.75, 1.82, 2.05, 2.15, 2.32, 2.10, 2.18, 1.92, 1.85]
ipd_p450_apr = [1.15, 1.30, 1.38, 1.30, 1.20, 1.18, 1.32, 1.18, 1.22,
                1.45, 1.28, 1.18, 1.25, 1.32, 1.30, 1.25, 1.22, 1.22, 1.10, 0.98, 1.08,
                1.18, 1.22, 1.18, 1.28, 1.30, 1.28, 1.30, 1.28, 1.20, 1.15, 1.08, 1.18,
                1.28, 1.30, 1.28, 1.32, 1.60, 1.92, 1.90, 1.65, 1.45, 1.55, 1.42, 1.42,
                1.45, 1.55, 1.55, 1.70, 1.85, 1.95, 1.95, 2.08, 1.85, 1.95, 1.80, 1.70]
ipd_p450_usr = [3.77, 4.66, 4.87, 4.78, 4.34, 4.34, 4.49, 4.66, 4.89,
                5.15, 4.63, 4.35, 4.43, 4.72, 4.81, 4.87, 4.66, 4.43, 3.95, 3.78, 4.11,
                4.26, 3.98, 3.67, 3.90, 4.35, 4.49, 4.97, 4.38, 4.07, 3.95, 4.00, 4.41,
                4.49, 4.35, 3.84, 3.90, 5.06, 5.80, 5.66, 5.00, 4.68, 4.94, 4.89, 5.25,
                4.92, 4.89, 4.23, 4.68, 5.06, 5.46, 5.82, 6.16, 5.72, 6.16, 5.85, 5.91]
ipd_pfix_smod = [0.38, 0.28, 0.28, 0.48, 0.45, 0.45, 0.45, 0.22, 0.35,
                 0.62, 0.62, 0.58, 0.35, 0.30, 0.30, 0.55, 0.68, 0.70, 0.35, 0.18, 0.32,
                 0.58, 0.58, 0.45, 0.32, 0.30, 0.32, 0.58, 0.60, 0.52, 0.35, 0.38, 0.62,
                 0.75, 0.62, 0.55, 0.28, 0.28, 0.52, 0.55, 0.52, 0.42, 0.55, 0.48, 0.72,
                 0.72, 0.78, 0.55, 0.30, 0.22, 0.55, 0.68, 0.85, 0.85, 0.80, 0.70, 0.80]
ipd_pfix_pri = [4.75, 5.25, 5.65, 5.18, 4.95, 4.55, 4.75, 4.18, 4.38,
                4.28, 3.90, 4.15, 4.30, 5.62, 5.68, 5.35, 4.95, 4.70, 4.85, 4.70, 4.35,
                4.40, 4.15, 4.20, 3.90, 4.00, 5.08, 5.28, 4.85, 4.52, 4.50, 4.75, 4.65,
                4.60, 4.30, 4.50, 4.70, 5.50, 5.90, 5.70, 5.20, 4.90, 4.90, 4.70, 4.50,
                4.50, 4.30, 4.40, 4.50, 5.00, 5.40, 5.30, 5.00, 4.80, 4.70, 4.80, 4.77]
ipd_pfix_wav = [1.32, 1.35, 1.58, 1.65, 1.45, 1.45, 1.68, 1.48, 1.65,
                2.12, 1.80, 1.58, 1.50, 1.50, 1.50, 1.62, 1.60, 1.68, 1.30, 1.00, 1.30,
                1.65, 1.75, 1.52, 1.52, 1.48, 1.50, 1.72, 1.70, 1.55, 1.42, 1.28, 1.65,
                1.85, 1.88, 1.62, 1.52, 2.10, 2.62, 2.58, 2.20, 1.88, 2.12, 1.88, 2.20,
                2.18, 2.40, 2.20, 2.28, 2.45, 2.80, 3.00, 3.20, 3.10, 2.95, 2.62, 2.68]
ipd_pfix_apr = [1.08, 1.28, 1.40, 1.18, 1.02, 1.15, 1.42, 1.55, 1.68,
                1.95, 1.62, 1.25, 1.45, 1.45, 1.25, 1.08, 1.02, 1.10, 1.12, 1.02, 1.12,
                1.25, 1.35, 1.22, 1.35, 1.45, 1.30, 1.30, 1.20, 1.10, 1.12, 1.05, 1.28,
                1.40, 1.52, 1.30, 1.40, 1.90, 2.25, 2.10, 1.78, 1.52, 1.68, 1.58, 1.70,
                1.70, 1.85, 1.82, 2.08, 2.32, 2.30, 2.35, 2.55, 2.15, 2.32, 2.20, 2.20]
ipd_pfix_usr = [5.82, 6.92, 7.30, 7.03, 6.48, 6.40, 6.79, 6.73, 6.92,
                7.26, 6.62, 6.39, 6.48, 7.08, 7.11, 7.03, 6.77, 6.54, 6.09, 5.89, 6.17,
                6.39, 6.02, 5.63, 5.86, 6.35, 6.71, 7.30, 6.51, 6.12, 6.05, 6.14, 6.54,
                6.90, 7.20, 7.00, 7.40, 8.00, 8.60, 8.50, 7.90, 7.40, 7.50, 7.40, 7.65,
                7.50, 7.40, 7.20, 7.60, 8.10, 8.60, 8.90, 9.20, 8.90, 9.10, 8.80, 8.90]
ipd_plrt_smod = [0.58, 0.25, 0.15, 0.38, 0.45, 0.52, 0.58, 0.25, 0.50,
                 0.85, 0.88, 0.80, 0.28, 0.18, 0.12, 0.40, 0.68, 0.70, 0.38, 0.28, 0.50,
                 0.75, 0.75, 0.58, 0.35, 0.12, 0.18, 0.45, 0.58, 0.50, 0.38, 0.55, 0.75,
                 0.95, 0.95, 0.80, 0.50, 0.22, 0.48, 0.50, 0.55, 0.52, 0.65, 0.62, 0.95,
                 0.95, 1.00, 0.78, 0.50, 0.30, 0.50, 0.62, 0.88, 0.92, 0.90, 0.82, 0.98]
ipd_plrt_wav = [0.58, 0.75, 0.90, 1.02, 0.92, 1.02, 1.30, 1.05, 1.22,
                1.75, 1.55, 1.18, 0.80, 0.85, 0.88, 0.80, 0.95, 1.10, 0.85, 0.82, 0.70,
                0.98, 0.95, 0.62, 0.48, 0.48, 0.65, 1.02, 0.98, 0.88, 0.75, 0.82, 1.20,
                1.45, 1.48, 1.00, 0.72, 1.25, 1.96, 1.93, 1.53, 1.42, 1.71, 1.51, 1.85,
                1.91, 2.12, 1.42, 1.45, 1.80, 2.15, 2.50, 2.87, 2.53, 2.73, 2.44, 2.53]
ipd_plrt_apr = [0.62, 0.88, 0.95, 0.92, 0.85, 0.78, 1.05, 1.05, 1.18,
                1.45, 1.18, 0.85, 0.90, 0.95, 0.98, 0.78, 0.75, 0.80, 0.88, 0.95, 0.80,
                0.65, 0.60, 0.40, 0.42, 0.58, 0.68, 0.82, 0.72, 0.62, 0.58, 0.65, 0.85,
                1.00, 1.05, 0.60, 0.68, 1.20, 1.78, 1.72, 1.32, 1.20, 1.35, 1.20, 1.35,
                1.40, 1.48, 1.02, 1.40, 1.75, 1.85, 2.00, 2.35, 1.92, 2.15, 2.02, 2.00]
ipd_plrt_usr = [5.54, 6.51, 6.71, 6.46, 5.91, 5.91, 6.39, 6.28, 6.48,
                6.83, 6.35, 6.14, 6.23, 6.62, 6.43, 6.35, 6.16, 5.97, 5.57, 5.40, 5.71,
                5.97, 5.74, 5.49, 5.86, 6.08, 6.23, 6.65, 5.97, 5.65, 5.69, 5.89, 6.14,
                6.12, 6.12, 5.71, 5.97, 7.17, 8.40, 8.30, 7.06, 6.65, 7.17, 7.12, 7.40,
                7.12, 7.25, 6.43, 7.12, 7.86, 8.30, 8.50, 8.80, 9.00, 8.80, 8.90, 8.70]

titles = ['p450', 'pfix toar', 'plrt merra2']
sat_names = ['TROPOMI', 'IASIAB', 'IASIGOME2B', 'MOD']
sat_colors = ['#7E2F8E', '#4DBEEE', '#00E600', 'k']
ipd_names = ['SMOD', 'PRI', 'WAV', 'APR', 'USR']
ipd_colors = ['k', '#77AC30', '#0072BD', '#D95319', '#EDB120']

# rows: (ylabel, ylim, yticks, [series per column])
rows = [
    ('\u0394SMOD [DU]', (-20, 20), [-20, -10, 0, 10, 20],
     [[dsmod_p450_trop, dsmod_p450_iab, dsmod_p450_ig2b, dsmod_mod],
      [dsmod_pfix_trop, dsmod_pfix_iab, dsmod_pfix_ig2b, dsmod_mod],
      [dsmod_plrt_trop, dsmod_plrt_iab, dsmod_plrt_ig2b, dsmod_mod]]),
    ('PRI [DU]', (0, 60), [0, 20, 40, 60],
     [[pri_p450_trop, pri_p450_iab, pri_p450_ig2b, mod_p450],
      [pri_pfix_trop, pri_pfix_iab, pri_pfix_ig2b, mod_pfix],
      [pri_plrt_trop, pri_plrt_iab, pri_plrt_ig2b, mod_plrt]]),
    ('WAV [DU]', (0, 60), [0, 20, 40, 60],
     [[wav_p450_trop, wav_p450_iab, wav_p450_ig2b, mod_p450],
      [wav_pfix_trop, wav_pfix_iab, wav_pfix_ig2b, mod_pfix],
      [wav_plrt_trop, wav_plrt_iab, wav_plrt_ig2b, mod_plrt]]),
    ('APR [DU]', (0, 60), [0, 20, 40, 60],
     [[apr_p450_trop, apr_p450_iab, apr_p450_ig2b, mod_p450],
      [apr_pfix_trop, apr_pfix_iab, apr_pfix_ig2b, mod_pfix],
      [apr_plrt_trop, apr_plrt_iab, apr_plrt_ig2b, mod_plrt]]),
    ('USR [DU]', (0, 60), [0, 20, 40, 60],
     [[usr_p450_trop, usr_p450_iab, usr_p450_ig2b, mod_p450],
      [usr_pfix_trop, usr_pfix_iab, usr_pfix_ig2b, mod_pfix],
      [usr_plrt_trop, usr_plrt_iab, usr_plrt_ig2b, mod_plrt]]),
]
# IPD panels: PRI of plrt merra2 lies entirely above the axis, so it is not drawn
ipd_rows = [
    [ipd_p450_smod, ipd_p450_pri, ipd_p450_wav, ipd_p450_apr, ipd_p450_usr],
    [ipd_pfix_smod, ipd_pfix_pri, ipd_pfix_wav, ipd_pfix_apr, ipd_pfix_usr],
    [ipd_plrt_smod, None, ipd_plrt_wav, ipd_plrt_apr, ipd_plrt_usr],
]

FW, FH = 1892, 1997
col_left = [87, 729, 1372]
row_top = [57, 382, 708, 1034, 1358, 1684]
AW, AH = 488, 234
FS = 16.5

fig = plt.figure(figsize=(FW / 100, FH / 100), dpi=100)


def style_axes(ax, ylim, yticks):
    ax.set_xlim(18, 23)
    ax.set_ylim(*ylim)
    ax.set_xticks([18, 19, 20, 21, 22, 23])
    ax.set_yticks(yticks)
    ax.grid(True, color='#dcdcdc', lw=0.9)
    ax.set_axisbelow(True)
    ax.tick_params(direction='in', top=True, right=True, length=4, width=1.0,
                   labelsize=FS, colors='#262626', labelcolor='#262626')
    ax.tick_params(axis='x', pad=8.5)
    ax.tick_params(axis='y', pad=3.5)
    for s in ax.spines.values():
        s.set_color('#262626')
        s.set_linewidth(1.2)


def make_ax(r, c):
    return fig.add_axes([col_left[c] / FW, 1 - (row_top[r] + AH) / FH, AW / FW, AH / FH])


leg_kw = dict(loc='upper right', fontsize=15, frameon=True, fancybox=False,
              framealpha=1, edgecolor='#262626', handlelength=4.4,
              handletextpad=0.45, labelspacing=0.32, borderpad=0.35,
              borderaxespad=0)

for r, (ylab, ylim, yticks, panels) in enumerate(rows):
    for c in range(3):
        ax = make_ax(r, c)
        for k, vals in enumerate(panels[c]):
            if sat_names[k] == 'MOD':
                ax.plot(years, vals, color='k', lw=1.2, ls=(0, (4, 3)), label='MOD')
            else:
                ax.plot(years, vals, color=sat_colors[k], lw=1.2, label=sat_names[k])
        style_axes(ax, ylim, yticks)
        ax.set_ylabel(ylab, fontsize=FS + 1, color='#262626', labelpad=4)
        if r == 0:
            ax.set_title(titles[c], fontsize=FS + 1, fontweight='bold', pad=16)
        if r == 2 and c == 1:
            ax.legend(bbox_to_anchor=(0.956, 0.934), **leg_kw)

for c in range(3):
    ax = make_ax(5, c)
    for k, vals in enumerate(ipd_rows[c]):
        if vals is None:
            continue
        ax.plot(years, vals, color=ipd_colors[k], lw=1.2, label=ipd_names[k])
    style_axes(ax, (0, 8), [0, 2, 4, 6, 8])
    ax.set_ylabel('IPD [DU]', fontsize=FS + 1, color='#262626', labelpad=4)
    ax.set_xlabel('Year', fontsize=FS + 1, color='#262626', labelpad=1)
    if c == 1:
        ax.legend(bbox_to_anchor=(0.958, 0.936), **leg_kw)

fig.savefig('out.png', dpi=100, facecolor='white')
